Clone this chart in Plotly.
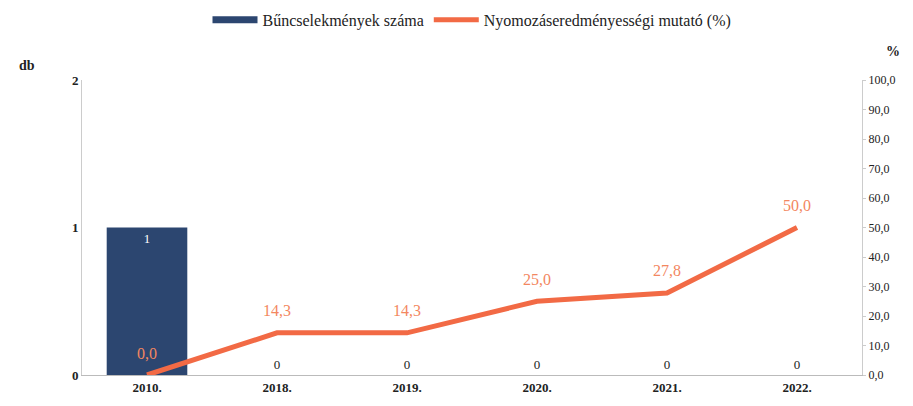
import plotly.graph_objects as go

categories = ["2010.", "2018.", "2019.", "2020.", "2021.", "2022."]
crime_counts = [1, 0, 0, 0, 0, 0]
rate_pct = [0.0, 14.3, 14.3, 25.0, 27.8, 50.0]

bar_color = "#2C4670"
line_color = "#F26A45"
label_color = "#F3875F"
FONT = "Liberation Serif"

fig = go.Figure()
fig.add_trace(go.Bar(
    x=categories, y=crime_counts, name="Bűncselekmények száma",
    marker=dict(color=bar_color, line=dict(width=0)),
    width=0.62, showlegend=False, legendgroup="bar",
    text=[str(v) for v in crime_counts],
    textposition=["inside" if v > 0 else "outside" for v in crime_counts],
    insidetextanchor="end",
    textfont=dict(family=FONT, size=13,
                  color=["white" if v > 0 else "#222222" for v in crime_counts]),
    cliponaxis=False,
))
# legend proxy: the bar entry is a wide dark strip in the reference legend
fig.add_trace(go.Scatter(
    x=[None], y=[None], mode="lines", name="Bűncselekmények száma",
    line=dict(color=bar_color, width=7), legendgroup="bar", hoverinfo="skip",
))
fig.add_trace(go.Scatter(
    x=categories, y=rate_pct, name="Nyomozáseredményességi mutató (%)",
    yaxis="y2", mode="lines",
    line=dict(color=line_color, width=5),
    cliponaxis=False,
))

annotations = [
    dict(x=i, y=v, xref="x", yref="y2", text=f"{v:.1f}".replace(".", ","),
         showarrow=False, yshift=22,
         font=dict(family=FONT, size=16, color=label_color))
    for i, v in enumerate(rate_pct)
]
annotations += [
    dict(text="<b>db</b>", xref="paper", yref="paper", x=-0.07, y=1.05,
         showarrow=False, font=dict(family=FONT, size=14, color="#222222"),
         xanchor="center", yanchor="middle"),
    dict(text="<b>%</b>", xref="paper", yref="paper", x=1.04, y=1.095,
         showarrow=False, font=dict(family=FONT, size=14, color="#222222"),
         xanchor="center", yanchor="middle"),
]

fig.update_layout(
    width=905, height=398,
    margin=dict(l=74, r=51, t=72, b=31),
    paper_bgcolor="white", plot_bgcolor="white",
    font=dict(family=FONT, size=13, color="#222222"),
    separators=", ",
    showlegend=True,
    legend=dict(orientation="h", x=0.5, xanchor="center", y=0.97, yanchor="middle",
                yref="container", font=dict(family=FONT, size=16, color="#222222"),
                traceorder="normal", itemwidth=45),
    xaxis=dict(type="category", categoryorder="array", categoryarray=categories,
               range=[-0.5, len(categories) - 0.5],
               showgrid=False, showline=True, linecolor="#BBBBBB",
               linewidth=1,
               tickfont=dict(family=FONT, size=13, color="#222222", weight="bold"),
               ticks=""),
    yaxis=dict(range=[0, 2], dtick=1, showgrid=False, showline=True,
               linecolor="#CCCCCC", linewidth=1, zeroline=False,
               tickfont=dict(family=FONT, size=13, color="#222222", weight="bold"),
               ticks=""),
    yaxis2=dict(range=[0, 100], dtick=10, overlaying="y", side="right",
                showgrid=False, showline=True, linecolor="#CCCCCC", linewidth=1,
                tickformat=".1f", zeroline=False,
                tickfont=dict(family=FONT, size=12, color="#222222"),
                ticks="outside", ticklen=3, tickcolor="#CCCCCC"),
    annotations=annotations,
)

fig.write_html("out.html")
